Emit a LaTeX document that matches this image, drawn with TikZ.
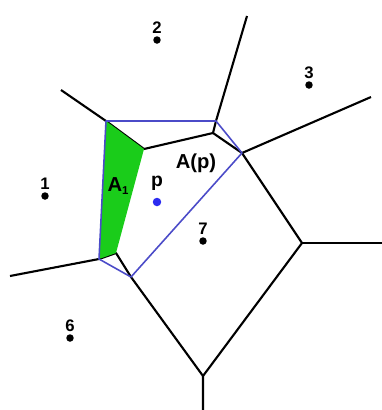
\documentclass[tikz,border=0pt]{standalone}
\usepackage{fontspec}
\setmainfont{Liberation Sans}
\usetikzlibrary{positioning}
\definecolor{CellGreen}{HTML}{1ACC1A}
\definecolor{HullBlue}{HTML}{4B4BC8}
\definecolor{SiteBlue}{HTML}{2B2BF0}
\tikzset{
  edge/.style={draw=black,line width=1.2pt,line join=round},
  newcell/.style={draw=HullBlue,line width=0.9pt,line join=round},
  stolen/.style={fill=CellGreen},
  site/.style={circle,fill=black,inner sep=0pt,minimum size=0.15cm},
  sitename/.style={font=\bfseries\fontsize{9.5}{10}\selectfont,inner sep=0.6pt},
  areaname/.style={font=\bfseries\fontsize{11.5}{13}\selectfont}
}
\newcommand{\site}[3]{%
  \node[site] (#1) at #2 {};
  \node[sitename,above=0.3pt of #1] {#3};
}

\begin{document}
\begin{tikzpicture}[x=0.02cm,y=-0.02cm]
  \useasboundingbox (0,0) rectangle (382,410);

  % old voronoi vertices and loose ends
  \coordinate (e1) at (61,90);
  \coordinate (e2) at (247,16);
  \coordinate (e3) at (371,97);
  \coordinate (e4) at (382,243);
  \coordinate (e5) at (203,410);
  \coordinate (e6) at (10,276);
  \coordinate (v2) at (144,149);
  \coordinate (v3) at (213,133);
  \coordinate (v4) at (242,153);
  \coordinate (v5) at (302,243);
  \coordinate (v6) at (203,376);
  \coordinate (v7) at (116,253);
  % corners of the new cell
  \coordinate (c1) at (106,121);
  \coordinate (c2) at (216,121);
  \coordinate (c3) at (131,277);
  \coordinate (c4) at (99,259);

  \draw[edge] (e1) -- (c1) -- (v2) -- (v3) -- (c2) -- (e2);
  \draw[edge] (v3) -- (v4) -- (v5) -- (v6) -- (e5);
  \draw[edge] (v4) -- (e3);
  \draw[edge] (v5) -- (e4);
  \draw[edge] (e6) -- (c4) -- (v7) -- (c3) -- (v6);

  \fill[stolen] (c1) -- (v2) -- (v7) -- (c4) -- cycle;
  \draw[newcell] (c1) -- (c2) -- (v4) -- (c3) -- (c4) -- cycle;

  \site{s1}{(45,196)}{1}
  \site{s2}{(157,40)}{2}
  \site{s3}{(309,85)}{3}
  \site{s6}{(70,338)}{6}
  \site{s7}{(203,241)}{7}
  \node[site,fill=SiteBlue,minimum size=0.17cm] (p) at (157,202) {};
  \node[areaname,above=0.3pt of p,font=\bfseries\fontsize{11}{12}\selectfont] (plabel) {p};

  \node[areaname] (ap) at (196,163) {A(p)};
  \node[areaname] (a1) at (118,186) {A\raisebox{-2pt}{\fontsize{6.5}{7}\selectfont 1}};
\end{tikzpicture}
\end{document}
